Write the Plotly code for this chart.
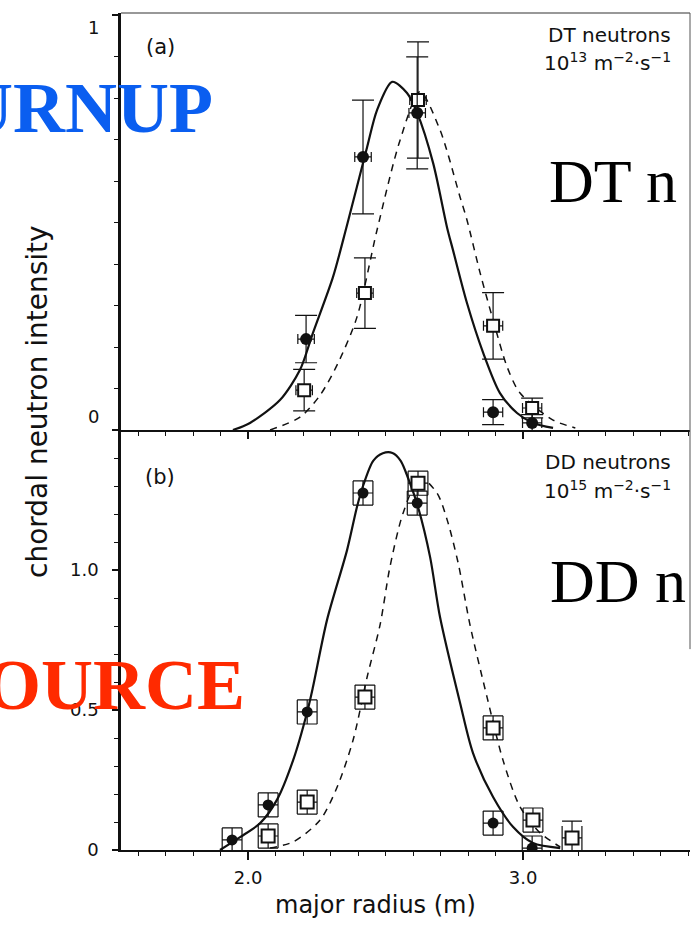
import plotly.graph_objects as go

# ---------------- data ----------------
# Panel (a): DT neutrons, 10^13 m^-2 s^-1
dt_solid_x = [1.945, 2.007, 2.116, 2.189, 2.236, 2.309, 2.36, 2.433, 2.469, 2.524,
              2.578, 2.615, 2.673, 2.724, 2.745, 2.796, 2.855, 2.916, 2.978, 3.036, 3.109]
dt_solid_y = [0.0, 0.017, 0.072, 0.145, 0.234, 0.369, 0.494, 0.682, 0.771, 0.839,
              0.812, 0.764, 0.643, 0.487, 0.434, 0.306, 0.186, 0.089, 0.041, 0.017, 0.005]
dt_dash_x = [2.08, 2.189, 2.262, 2.327, 2.396, 2.469, 2.553, 2.625, 2.698, 2.771,
             2.796, 2.844, 2.891, 2.942, 2.989, 3.109, 3.19]
dt_dash_y = [0.0, 0.031, 0.084, 0.161, 0.272, 0.482, 0.699, 0.815, 0.723, 0.561,
             0.506, 0.378, 0.265, 0.152, 0.089, 0.024, 0.005]
dt_filled_x = [2.211, 2.418, 2.615, 2.891, 3.033]
dt_filled_y = [0.219, 0.658, 0.764, 0.043, 0.017]
dt_filled_ey = [0.057, 0.137, 0.135, 0.03, 0.02]
dt_open_x = [2.204, 2.425, 2.618, 2.891, 3.033]
dt_open_y = [0.096, 0.330, 0.795, 0.251, 0.053]
dt_open_ey = [0.05, 0.085, 0.14, 0.08, 0.024]
dt_ex = [0.03, 0.03, 0.03, 0.035, 0.035]

# Panel (b): DD neutrons, 10^15 m^-2 s^-1
dd_solid_x = [1.898, 1.971, 2.044, 2.105, 2.164, 2.215, 2.236, 2.287, 2.36, 2.396,
              2.418, 2.455, 2.49, 2.525, 2.555, 2.585, 2.618, 2.662, 2.698, 2.771,
              2.818, 2.891, 2.964, 3.036, 3.135]
dd_solid_y = [0.0, 0.046, 0.096, 0.179, 0.321, 0.493, 0.582, 0.821, 1.071, 1.225,
              1.30, 1.39, 1.417, 1.418, 1.39, 1.32, 1.225, 1.046, 0.832, 0.525,
              0.346, 0.189, 0.082, 0.025, 0.007]
dd_dash_x = [2.08, 2.164, 2.262, 2.324, 2.382, 2.433, 2.48, 2.516, 2.564, 2.625,
             2.687, 2.724, 2.764, 2.807, 2.869, 2.927, 2.989, 3.062, 3.135]
dd_dash_y = [0.007, 0.029, 0.107, 0.225, 0.393, 0.618, 0.804, 1.011, 1.204, 1.33,
             1.275, 1.179, 1.025, 0.804, 0.546, 0.321, 0.154, 0.061, 0.011]
dd_filled_x = [1.942, 2.073, 2.215, 2.418, 2.615, 2.891, 3.033]
dd_filled_y = [0.036, 0.161, 0.493, 1.275, 1.239, 0.096, 0.007]
dd_open_x = [2.073, 2.215, 2.425, 2.618, 2.891, 3.036, 3.178]
dd_open_y = [0.05, 0.171, 0.546, 1.31, 0.436, 0.107, 0.043]
dd_filled_ey = [0.043] * 7
dd_open_ey = [0.043, 0.043, 0.043, 0.043, 0.043, 0.043, 0.06]
dd_ex = [0.036] * 7

x_ticks = [2.0, 3.0]
x_ticktext = ["2.0", "3.0"]
yb_ticks = [0, 0.5, 1.0]
yb_ticktext = ["0", "0.5", "1.0"]

# ---------------- figure ----------------
FONT = "DejaVu Sans"
BLACK = "#111111"
fig = go.Figure()

def lines(x, y, dash, width, xa, ya):
    fig.add_trace(go.Scatter(x=x, y=y, mode="lines", xaxis=xa, yaxis=ya,
                             line=dict(color=BLACK, width=width, dash=dash, shape="spline", smoothing=0.8),
                             hoverinfo="skip", showlegend=False))

def points(x, y, ey, ex, symbol, size, xa, ya, capy, capx):
    filled = symbol == "circle"
    fig.add_trace(go.Scatter(
        x=x, y=y, mode="markers", xaxis=xa, yaxis=ya, showlegend=False,
        marker=dict(symbol=symbol, size=size, color=BLACK if filled else "white",
                    line=dict(color=BLACK, width=0 if filled else 2)),
        error_y=dict(type="data", array=ey, color=BLACK, thickness=1.2, width=capy),
        error_x=dict(type="data", array=ex, color=BLACK, thickness=1.2, width=capx)))

# panel (a) -> x2 / y2
lines(dt_solid_x, dt_solid_y, "solid", 2.2, "x2", "y2")
lines(dt_dash_x, dt_dash_y, "7px,6px", 1.5, "x2", "y2")
points(dt_open_x, dt_open_y, dt_open_ey, dt_ex, "square", 12, "x2", "y2", 11, 5)
points(dt_filled_x, dt_filled_y, dt_filled_ey, dt_ex, "circle", 12, "x2", "y2", 11, 5)

# panel (b) -> x / y
lines(dd_solid_x, dd_solid_y, "solid", 2.2, "x", "y")
lines(dd_dash_x, dd_dash_y, "7px,6px", 1.5, "x", "y")
points(dd_open_x, dd_open_y, dd_open_ey, dd_ex, "square", 13, "x", "y", 10, 12)
points(dd_filled_x, dd_filled_y, dd_filled_ey, dd_ex, "circle", 11, "x", "y", 10, 12)

SPLIT = 420 / 837
XR = [1.538, 3.607]
common_x = dict(range=XR, showgrid=False, zeroline=False, showline=True, linecolor=BLACK,
                linewidth=2, ticks="outside", tickcolor=BLACK, tickwidth=1.5,
                tickmode="array", tickvals=x_ticks,
                minor=dict(dtick=0.1, tick0=2.0, ticks="outside", ticklen=4, tickcolor=BLACK, tickwidth=1))
common_y = dict(showgrid=False, zeroline=False, showline=True, linecolor=BLACK, linewidth=2.5,
                ticks="outside", ticklen=6, tickcolor=BLACK, tickwidth=1.5,
                minor=dict(dtick=0.1, tick0=0, ticks="outside", ticklen=4, tickcolor=BLACK, tickwidth=1))

fig.update_layout(
    width=692, height=925,
    margin=dict(l=121, r=2, t=13, b=75),
    paper_bgcolor="white", plot_bgcolor="white",
    font=dict(family=FONT, color=BLACK, size=18),
    xaxis=dict(**common_x, domain=[0, 1], anchor="y", ticktext=x_ticktext, ticklen=8,
               tickfont=dict(family=FONT, size=18), ticklabelstandoff=2),
    yaxis=dict(**common_y, domain=[0, SPLIT], anchor="x", range=[0, 1.5],
               tickmode="array", tickvals=yb_ticks, ticktext=yb_ticktext,
               tickfont=dict(family=FONT, size=18), ticklabelstandoff=10),
    xaxis2=dict(**common_x, domain=[0, 1], anchor="y2", matches="x", showticklabels=False, ticklen=7),
    yaxis2=dict(**common_y, domain=[SPLIT, 1], anchor="x2", range=[0, 417 / 415],
                tickmode="array", tickvals=[0, 1], showticklabels=False),
    showlegend=False,
)

def px(xp):
    return (xp - 121) / 569

def py(yp):
    return (850 - yp) / 837

ann = []
def add(text, x, y, xanchor="center", yanchor="middle", size=18, family=FONT, color=BLACK, angle=0):
    ann.append(dict(text=text, x=x, y=y, xref="paper", yref="paper", xanchor=xanchor, yanchor=yanchor,
                    showarrow=False, textangle=angle, font=dict(family=family, size=size, color=color)))

# top-panel tick labels (offset as in the original)
add("1", px(101), py(28), xanchor="right")
add("0", px(101), py(416), xanchor="right")
# panel labels
add("(a)", px(160), py(47), size=21)
add("(b)", px(160), py(477), size=21)
add("DT neutrons", px(673), py(35), xanchor="right", size=20)
add("10<sup>13</sup> m<sup>−2</sup>·s<sup>−1</sup>", px(673), py(62), xanchor="right", size=20)
add("DD neutrons", px(673), py(462), xanchor="right", size=20)
add("10<sup>15</sup> m<sup>−2</sup>·s<sup>−1</sup>", px(673), py(490), xanchor="right", size=20)
# axis titles
add("chordal neutron intensity", px(37), py(402), size=28, angle=-90)
add("major radius (m)", px(375), py(905), size=24)
# overlay slide texts
add("<b>URNUP</b>", px(215), py(108), xanchor="right", size=72, family="Liberation Serif", color="#0A5EF0")
add("<b>OURCE</b>", px(247), py(685), xanchor="right", size=72, family="Liberation Serif", color="#FF2A00")
add("DT n", px(547), py(181), xanchor="left", size=62, family="Liberation Serif", color="#000000")
add("DD n", px(548), py(581), xanchor="left", size=62, family="Liberation Serif", color="#000000")
fig.update_layout(annotations=ann)

# thin frame lines of the scanned figure
fig.add_shape(type="line", xref="paper", yref="paper", x0=0, x1=1, y0=1, y1=1,
              line=dict(color="#333333", width=1.2))
fig.add_shape(type="line", xref="paper", yref="paper", x0=1, x1=1, y0=0.24, y1=1,
              line=dict(color="#555555", width=1))

fig.write_html("out.html")
